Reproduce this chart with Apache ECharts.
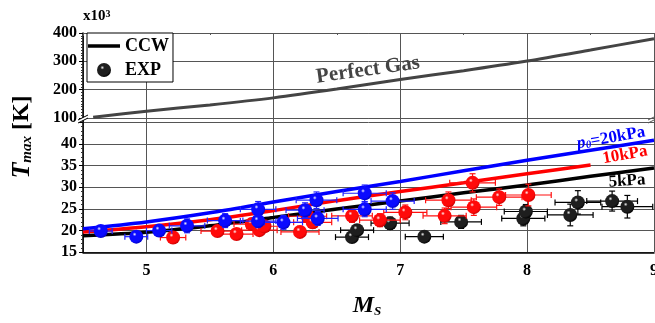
<!DOCTYPE html>
<html><head><meta charset="utf-8">
<script src="https://cdn.jsdelivr.net/npm/echarts/dist/echarts.min.js"></script>
<style>html,body{margin:0;padding:0;background:#fff}#c{width:655px;height:323px}</style>
</head><body><div id="c"></div><script>
// ---- data ----
const xTicks = [5, 6, 7, 8, 9];
const upperTicks = [100, 200, 300, 400];
const lowerTicks = [15, 20, 25, 30, 35, 40];

const pgM = [4.58, 5.0, 5.5, 6.0, 6.5, 7.0, 7.5, 8.0, 8.5, 9.0];
const pgT = [103, 124, 146, 171, 202, 236, 267, 301, 340, 380];

const ccwM   = [4.5, 5.0, 5.5, 6.0, 6.5, 7.0, 7.5, 8.0, 8.5, 9.0];
const ccw5   = [18.8, 19.6, 21.1, 23.0, 25.0, 26.8, 28.7, 30.5, 32.5, 34.4];
const ccw10M = [4.5, 5.0, 5.5, 6.0, 6.5, 7.0, 7.5, 8.0, 8.5];
const ccw10  = [19.7, 20.9, 22.5, 24.6, 26.9, 29.0, 31.0, 33.1, 35.1];
const ccw20  = [20.4, 22.0, 24.1, 26.6, 29.0, 31.3, 33.8, 36.2, 38.5, 40.8];

const exp20M  = [4.64, 4.92, 5.10, 5.32, 5.62, 5.88, 5.88, 6.08, 6.25, 6.34, 6.35, 6.72, 6.72, 6.94];
const exp20T  = [19.9, 18.6, 20.0, 21.1, 22.3, 24.9, 22.2, 21.9, 24.7, 27.0, 22.8, 28.6, 24.9, 26.8];
const exp20dM = [0.09, 0.09, 0.10, 0.14, 0.14, 0.14, 0.14, 0.15, 0.15, 0.16, 0.16, 0.17, 0.17, 0.17];
const exp20dT = [0.8, 0.8, 1.1, 1.6, 1.6, 1.8, 1.5, 1.6, 1.7, 1.9, 1.6, 1.9, 1.7, 1.9];

const exp10M  = [5.21, 5.56, 5.71, 5.83, 5.89, 5.93, 6.21, 6.27, 6.31, 6.62, 6.84, 7.04, 7.35, 7.38, 7.57, 7.58, 7.78, 8.01];
const exp10T  = [18.4, 19.9, 19.2, 21.5, 20.1, 21.0, 19.7, 23.3, 21.9, 23.4, 22.4, 24.2, 23.4, 27.0, 31.0, 25.4, 27.7, 28.2];
const exp10dM = [0.10, 0.13, 0.13, 0.14, 0.14, 0.14, 0.15, 0.15, 0.15, 0.16, 0.16, 0.17, 0.17, 0.18, 0.18, 0.18, 0.18, 0.18];
const exp10dT = [0.9, 1.0, 1.0, 1.2, 1.2, 1.2, 1.3, 1.4, 1.3, 1.5, 1.5, 1.7, 1.8, 1.9, 2.1, 1.9, 1.9, 2.5];

const exp5M  = [6.62, 6.66, 6.92, 7.19, 7.48, 7.97, 7.99, 8.34, 8.40, 8.67, 8.79];
const exp5T  = [18.5, 20.1, 21.7, 18.6, 22.0, 22.8, 24.4, 23.6, 26.5, 26.8, 25.5];
const exp5dM = [0.13, 0.13, 0.15, 0.15, 0.16, 0.17, 0.17, 0.18, 0.18, 0.20, 0.20];
const exp5dT = [1.0, 1.1, 1.4, 1.1, 1.5, 1.7, 1.6, 2.5, 2.7, 2.3, 2.6];

// ---- helpers ----
const FONT = "'Liberation Serif','Times New Roman',serif";
const zip = (a, b) => a.map((v, i) => [v, b[i]]);
const zip4 = (a, b, c, d) => a.map((v, i) => [v, b[i], c[i], d[i]]);
function sphere(hi, mid, dark) {
  return { type: 'radial', x: 0.38, y: 0.33, r: 0.7,
    colorStops: [{ offset: 0, color: hi }, { offset: 0.2, color: mid }, { offset: 0.75, color: mid }, { offset: 1, color: dark }] };
}
function errRender(color) {
  return function (params, api) {
    const x = api.value(0), y = api.value(1), ex = api.value(2), ey = api.value(3);
    const l = api.coord([x - ex, y]), r = api.coord([x + ex, y]);
    const t = api.coord([x, y + ey]), b = api.coord([x, y - ey]);
    const c = 3;
    const st = { stroke: color, lineWidth: 1.2 };
    const L = (x1, y1, x2, y2) => ({ type: 'line', shape: { x1, y1, x2, y2 }, style: st });
    return { type: 'group', children: [
      L(l[0], l[1], r[0], r[1]), L(t[0], t[1], b[0], b[1]),
      L(l[0], l[1] - c, l[0], l[1] + c), L(r[0], r[1] - c, r[0], r[1] + c),
      L(t[0] - c, t[1], t[0] + c, t[1]), L(b[0] - c, b[1], b[0] + c, b[1])
    ]};
  };
}
const gridLine = { show: true, lineStyle: { color: '#555', width: 1 } };
const lblStyle = { color: '#000', fontFamily: FONT, fontWeight: 'bold', fontSize: 16 };

const chart = echarts.init(document.getElementById('c'), null, { renderer: 'canvas' });
const option = {
  animation: false,
  backgroundColor: '#fff',
  grid: [
    { left: 83, right: 1, top: 33, height: 85, containLabel: false, outerBoundsMode: 'none' },
    { left: 83, right: 1, top: 118, height: 134.3, containLabel: false, outerBoundsMode: 'none' }
  ],
  xAxis: [
    { gridIndex: 0, type: 'value', min: 4.5, max: 9, minInterval: 1, maxInterval: 1, position: 'top',
      axisLine: { show: true, onZero: false, lineStyle: { color: '#555' } },
      axisTick: { show: true, inside: true, length: 3, lineStyle: { color: '#555' } },
      minorTick: { show: true, splitNumber: 2, length: 2, lineStyle: { color: '#555' } },
      axisLabel: { show: false }, splitLine: gridLine },
    { gridIndex: 1, type: 'value', min: 4.5, max: 9, minInterval: 1, maxInterval: 1, position: 'bottom',
      axisLine: { show: true, onZero: false, lineStyle: { color: '#000', width: 1.5 } },
      axisTick: { show: false },
      axisLabel: Object.assign({ margin: 11, showMaxLabel: true, showMinLabel: true,
        formatter: v => (xTicks.some(t => Math.abs(t - v) < 1e-6) ? String(v) : '') }, lblStyle),
      splitLine: gridLine }
  ],
  yAxis: [
    { gridIndex: 0, type: 'value', min: upperTicks[0], max: upperTicks[upperTicks.length - 1], interval: 100,
      axisLine: { show: true, onZero: false, lineStyle: { color: '#000', width: 1.5 } },
      axisTick: { show: true, length: 4, lineStyle: { color: '#000' } },
      minorTick: { show: true, splitNumber: 10, length: 2, lineStyle: { color: '#333' } },
      axisLabel: Object.assign({ margin: 6, showMinLabel: true, showMaxLabel: true,
        formatter: v => (upperTicks.includes(v) ? String(v) : '') }, lblStyle),
      splitLine: gridLine },
    { gridIndex: 1, type: 'value', min: 15, max: 45.94, interval: 5,
      axisLine: { show: true, onZero: false, lineStyle: { color: '#000', width: 1.5 } },
      axisTick: { show: true, length: 4, lineStyle: { color: '#000' } },
      minorTick: { show: true, splitNumber: 5, length: 2, lineStyle: { color: '#333' } },
      axisLabel: Object.assign({ margin: 6, showMinLabel: true, showMaxLabel: true,
        formatter: v => (lowerTicks.some(t => Math.abs(t - v) < 1e-6) ? String(v) : '') }, lblStyle),
      splitLine: gridLine }
  ],
  legend: {
    show: true, orient: 'vertical', left: 87, top: 33, itemWidth: 32, itemHeight: 14, itemGap: 6,
    padding: [4, 4, 3, 1], borderColor: '#000', borderWidth: 1, backgroundColor: '#fff',
    textStyle: { fontFamily: FONT, fontWeight: 'bold', fontSize: 18, color: '#000' },
    data: [
      { name: 'CCW', icon: 'path://M0,0L0.05,0L0.05,0.05Z M0,5.3L32,5.3L32,8.7L0,8.7Z M31.95,13.95L32,13.95L32,14Z' },
      { name: 'EXP', icon: 'circle' }
    ]
  },
  series: [
    { name: 'Perfect Gas', type: 'line', xAxisIndex: 0, yAxisIndex: 0, data: zip(pgM, pgT), smooth: 0.3,
      symbol: 'none', lineStyle: { color: '#444', width: 3 }, itemStyle: { color: '#444' }, z: 2 },
    { name: 'CCW', type: 'line', xAxisIndex: 1, yAxisIndex: 1, data: zip(ccwM, ccw5), smooth: 0.3,
      symbol: 'none', lineStyle: { color: '#000', width: 3.5 }, itemStyle: { color: '#000' }, z: 2 },
    { name: 'CCW 10kPa', type: 'line', xAxisIndex: 1, yAxisIndex: 1, data: zip(ccw10M, ccw10), smooth: 0.3,
      symbol: 'none', lineStyle: { color: '#ff0000', width: 3.5 }, itemStyle: { color: '#ff0000' }, z: 2 },
    { name: 'CCW 20kPa', type: 'line', xAxisIndex: 1, yAxisIndex: 1, data: zip(ccwM, ccw20), smooth: 0.3,
      symbol: 'none', lineStyle: { color: '#0000ff', width: 3.5 }, itemStyle: { color: '#0000ff' }, z: 2 },

    { name: 'err5', type: 'custom', xAxisIndex: 1, yAxisIndex: 1, data: zip4(exp5M, exp5T, exp5dM, exp5dT),
      encode: { x: 0, y: 1 }, renderItem: errRender('#000'), z: 3 },
    { name: 'EXP', type: 'scatter', xAxisIndex: 1, yAxisIndex: 1, data: zip(exp5M, exp5T), symbolSize: 14,
      itemStyle: { opacity: 1, color: sphere('#f0f0f0', '#1e1e1e', '#000') }, z: 4 },
    { name: 'err10', type: 'custom', xAxisIndex: 1, yAxisIndex: 1, data: zip4(exp10M, exp10T, exp10dM, exp10dT),
      encode: { x: 0, y: 1 }, renderItem: errRender('#ff1010'), z: 5 },
    { name: 'EXP 10kPa', type: 'scatter', xAxisIndex: 1, yAxisIndex: 1, data: zip(exp10M, exp10T), symbolSize: 14,
      itemStyle: { opacity: 1, color: sphere('#fff0f0', '#ff0a0a', '#c80000') }, z: 6 },
    { name: 'err20', type: 'custom', xAxisIndex: 1, yAxisIndex: 1, data: zip4(exp20M, exp20T, exp20dM, exp20dT),
      encode: { x: 0, y: 1 }, renderItem: errRender('#2020ff'), z: 7 },
    { name: 'EXP 20kPa', type: 'scatter', xAxisIndex: 1, yAxisIndex: 1, data: zip(exp20M, exp20T), symbolSize: 14,
      itemStyle: { opacity: 1, color: sphere('#f0f0ff', '#0a0aff', '#0000c0') }, z: 8 }
  ],
  graphic: [
    { type: 'text', x: 83, y: 24, z: 100, style: { text: 'x10{sup|3}', fontFamily: FONT, fontWeight: 'bold', fontSize: 15,
        fill: '#000', verticalAlign: 'bottom', rich: { sup: { fontFamily: FONT, fontWeight: 'bold', fontSize: 10, verticalAlign: 'top', fill: '#000' } } } },
    { type: 'text', x: 368, y: 70, rotation: 8 * Math.PI / 180, z: 100,
      style: { text: 'Perfect Gas', fontFamily: FONT, fontWeight: 'bold', fontSize: 21, fill: '#444', align: 'center', verticalAlign: 'middle' } },
    { type: 'text', x: 611, y: 138, rotation: 10 * Math.PI / 180, z: 100,
      style: { text: '{i|p}{s|0}{n|=20kPa}', align: 'center', verticalAlign: 'middle',
        rich: { i: { fontFamily: FONT, fontWeight: 'bold', fontStyle: 'italic', fontSize: 17, fill: '#0000ff' },
                s: { fontFamily: FONT, fontWeight: 'bold', fontStyle: 'italic', fontSize: 11, fill: '#0000ff', verticalAlign: 'bottom' },
                n: { fontFamily: FONT, fontWeight: 'bold', fontSize: 17, fill: '#0000ff' } } } },
    { type: 'text', x: 625, y: 155, rotation: 10 * Math.PI / 180, z: 100,
      style: { text: '10kPa', fontFamily: FONT, fontWeight: 'bold', fontSize: 17, fill: '#ff0000', align: 'center', verticalAlign: 'middle' } },
    { type: 'text', x: 627, y: 181, rotation: 4 * Math.PI / 180, z: 100,
      style: { text: '5kPa', fontFamily: FONT, fontWeight: 'bold', fontSize: 17, fill: '#000', align: 'center', verticalAlign: 'middle' } },
    { type: 'text', x: 367, y: 306, z: 100,
      style: { text: '{m|M}{s|S}', align: 'center', verticalAlign: 'middle',
        rich: { m: { fontFamily: FONT, fontWeight: 'bold', fontStyle: 'italic', fontSize: 24, fill: '#000' },
                s: { fontFamily: FONT, fontWeight: 'bold', fontStyle: 'italic', fontSize: 13, fill: '#000', verticalAlign: 'bottom' } } } },
    { type: 'text', x: 22, y: 137, rotation: Math.PI / 2, z: 100,
      style: { text: '{t|T}{s|max}{k| [K]}', align: 'center', verticalAlign: 'middle',
        rich: { t: { fontFamily: FONT, fontWeight: 'bold', fontStyle: 'italic', fontSize: 26, fill: '#000' },
                s: { fontFamily: FONT, fontWeight: 'bold', fontStyle: 'italic', fontSize: 15, fill: '#000', verticalAlign: 'bottom' },
                k: { fontFamily: FONT, fontWeight: 'bold', fontSize: 24, fill: '#000' } } } },
    // axis break marks
    { type: 'polygon', z: 99, shape: { points: [[78, 120], [88, 115], [88, 118], [78, 123]] }, style: { fill: '#fff' } },
    { type: 'line', z: 100, shape: { x1: 78, y1: 120, x2: 88, y2: 115 }, style: { stroke: '#000', lineWidth: 1 } },
    { type: 'line', z: 100, shape: { x1: 78, y1: 123, x2: 88, y2: 118 }, style: { stroke: '#000', lineWidth: 1 } },
    { type: 'line', z: 100, shape: { x1: 648, y1: 120, x2: 658, y2: 115 }, style: { stroke: '#555', lineWidth: 1 } },
    { type: 'line', z: 100, shape: { x1: 648, y1: 123, x2: 658, y2: 118 }, style: { stroke: '#555', lineWidth: 1 } }
  ]
};
chart.setOption(option);
</script></body></html>
